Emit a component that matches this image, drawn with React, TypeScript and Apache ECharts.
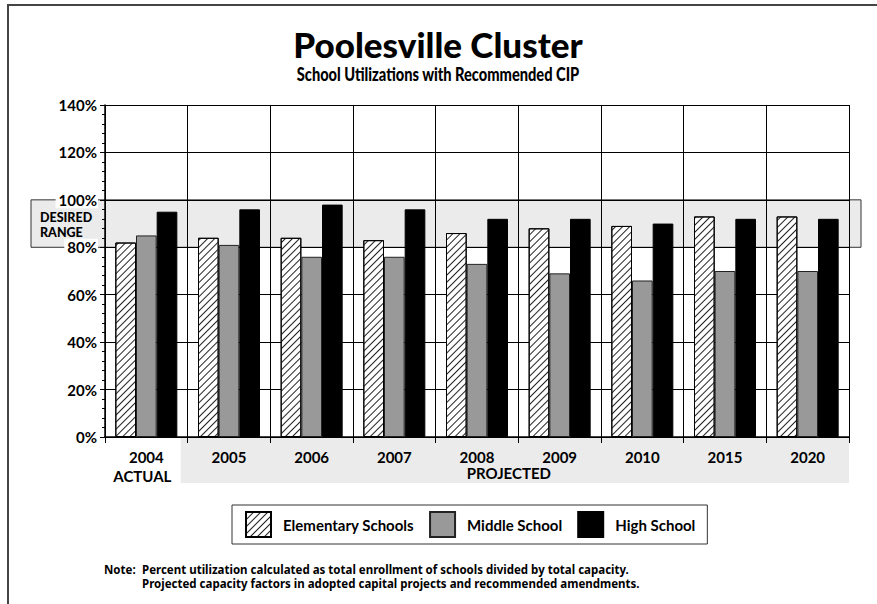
import React, { useEffect, useRef } from "react";
import * as echarts from "echarts";

const years = ["2004", "2005", "2006", "2007", "2008", "2009", "2010", "2015", "2020"];
const elementary = [82, 84, 84, 83, 86, 88, 89, 93, 93];
const middle = [85, 81, 76, 76, 73, 69, 66, 70, 70];
const high = [95, 96, 98, 96, 92, 92, 90, 92, 92];
const desiredRange = [80, 100];
const yTicks = { min: 0, max: 140, interval: 20 };
const titleText = "Poolesville Cluster";
const subtitleText = "School Utilizations with Recommended CIP";
const noteLines = [
  "Percent utilization calculated as total enrollment of schools divided by total capacity.",
  "Projected capacity factors in adopted capital projects and recommended amendments.",
];

const FONT = "Lato";

export default function App() {
  const ref = useRef<HTMLDivElement>(null);
  useEffect(() => {
    if (!ref.current) return;
    const chart = echarts.init(ref.current, null, { renderer: "svg" });
    const gridLeft = 105, gridRight = 28, gridTop = 105, gridBottom = 167;
    const W = 877, H = 604;
    const option: any = {
      animation: false,
      backgroundColor: "#fff",
      textStyle: { fontFamily: FONT },
      grid: { left: gridLeft, right: gridRight, top: gridTop, bottom: gridBottom, containLabel: false },
      legend: {
        left: 232,
        top: 505,
        itemWidth: 25,
        itemHeight: 25,
        itemGap: 15,
        borderColor: "#333",
        borderWidth: 1,
        backgroundColor: "#fff",
        padding: [6, 12, 6, 13],
        icon: "rect",
        textStyle: { fontFamily: FONT, fontWeight: "bold", fontSize: 15, color: "#000", padding: [0, 0, 0, 7] },
        data: ["Elementary Schools", "Middle School", "High School"],
      },
      xAxis: {
        type: "category",
        data: years,
        axisLine: { lineStyle: { color: "#000", width: 1.5 } },
        axisTick: { show: true, alignWithLabel: false, length: 6, lineStyle: { color: "#000" } },
        splitLine: { show: true, lineStyle: { color: "#000", width: 1 } },
        axisLabel: {
          margin: 10,
          interval: 0,
          formatter: (v: string, i: number) => (i === 0 ? `{y|${v}}\n{s|ACTUAL}` : `{y|${v}}`),
          rich: {
            y: { fontFamily: FONT, fontWeight: "bold", fontSize: 15, color: "#000", lineHeight: 19 },
            s: { fontFamily: FONT, fontWeight: "bold", fontSize: 15, color: "#000", lineHeight: 19, padding: [0, 8, 0, 0] },
          },
        },
      },
      yAxis: {
        type: "value",
        min: yTicks.min,
        max: yTicks.max,
        interval: yTicks.interval,
        axisLine: { show: true, lineStyle: { color: "#000", width: 1.5 } },
        axisTick: { show: true, length: 5, lineStyle: { color: "#000" } },
        minorTick: { show: true, splitNumber: 5, length: 3, lineStyle: { color: "#000" } },
        splitLine: { show: true, lineStyle: { color: "#000", width: 1 } },
        axisLabel: {
          formatter: "{value}%",
          fontFamily: FONT,
          fontWeight: "bold",
          fontSize: 15,
          color: "#000",
          margin: 7,
          backgroundColor: "#fff",
          padding: [1, 1, 1, 3],
        },
      },
      series: [
        {
          name: "Elementary Schools",
          type: "bar",
          data: elementary,
          barGap: "0%",
          barCategoryGap: "25%",
          itemStyle: {
            color: "#fff",
            borderColor: "#000",
            borderWidth: 1,
            decal: {
              symbol: "rect",
              symbolSize: 1,
              dashArrayX: [1, 0],
              dashArrayY: [1, 4],
              rotation: -Math.PI / 4,
              color: "#222",
            },
          },
        },
        {
          name: "Middle School",
          type: "bar",
          data: middle,
          itemStyle: { color: "#999", borderColor: "#222", borderWidth: 1 },
        },
        {
          name: "High School",
          type: "bar",
          data: high,
          itemStyle: { color: "#000", borderColor: "#000", borderWidth: 1 },
        },
      ],
    };
    chart.setOption(option);

    const yTop = chart.convertToPixel({ yAxisIndex: 0 }, desiredRange[1]) as number;
    const yBot = chart.convertToPixel({ yAxisIndex: 0 }, desiredRange[0]) as number;
    const plotW = W - gridLeft - gridRight;
    const catW = plotW / years.length;
    const axisY = H - gridBottom;
    const projStart = gridLeft + catW - 7;
    const projEnd = W - gridRight;

    const noteStyle = {
      fontFamily: "Noto Sans",
      fontWeight: "bold",
      fontSize: 11.5,
      lineHeight: 14.5,
      fill: "#000",
      textVerticalAlign: "top",
    };
    const rangeStyle = {
      fontFamily: FONT,
      fontWeight: 900,
      fontSize: 12.5,
      fill: "#000",
      textVerticalAlign: "middle",
    };

    chart.setOption({
      graphic: [
        {
          type: "rect",
          z: -1,
          shape: { x: 8, y: 5, width: 900, height: 700 },
          style: { fill: "none", stroke: "#444", lineWidth: 2 },
        },
        {
          type: "rect",
          z: -1,
          shape: { x: 31, y: yTop, width: 861 - 31, height: yBot - yTop },
          style: { fill: "#ebebeb", stroke: "#333", lineWidth: 1 },
        },
        {
          type: "rect",
          z: -1,
          shape: { x: projStart, y: axisY + 1, width: projEnd - projStart, height: 45 },
          style: { fill: "#ebebeb" },
        },
        { type: "text", z: 5, x: 40, y: yTop + 17.5, style: { text: "DESIRED", ...rangeStyle } },
        { type: "text", z: 5, x: 40, y: yTop + 32.5, style: { text: "RANGE", ...rangeStyle } },
        {
          type: "text",
          x: (projStart + projEnd) / 2 - 6,
          y: axisY + 28,
          style: {
            text: "PROJECTED",
            fontFamily: FONT,
            fontWeight: "bold",
            fontSize: 15,
            fill: "#000",
            textAlign: "center",
          },
        },
        {
          type: "text",
          x: 438,
          y: 26,
          style: {
            text: titleText,
            fontFamily: FONT,
            fontWeight: 900,
            fontSize: 35,
            fill: "#000",
            textAlign: "center",
          },
        },
        {
          type: "text",
          x: 438,
          y: 64,
          scaleX: 0.77,
          style: {
            text: subtitleText,
            fontFamily: FONT,
            fontWeight: 900,
            fontSize: 19,
            fill: "#000",
            textAlign: "center",
          },
        },
        {
          type: "text",
          x: 104,
          y: 562,
          style: { text: "Note:", ...noteStyle },
        },
        {
          type: "text",
          x: 142,
          y: 562,
          style: { text: noteLines[0] + "\n" + noteLines[1], ...noteStyle },
        },
      ],
    });

    return () => chart.dispose();
  }, []);
  return (
    <div
      ref={ref}
      style={{ position: "absolute", left: 0, top: 0, width: 877, height: 604 }}
    />
  );
}
